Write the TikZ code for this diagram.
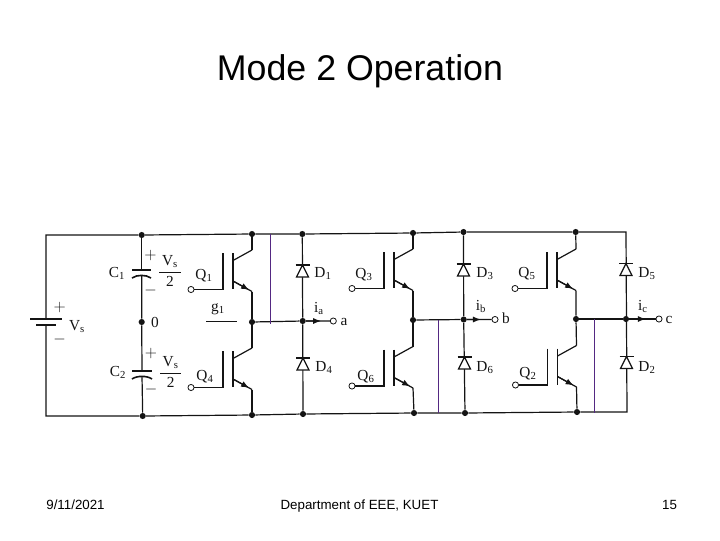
\documentclass[tikz,border=0pt]{standalone}
\usepackage{amsmath}
\usepackage[no-math]{fontspec}
\setmainfont{Liberation Sans}
\newfontfamily\cktfont{Liberation Serif}
\usetikzlibrary{arrows.meta,calc}

\definecolor{wirecol}{gray}{0.08}
\definecolor{modecol}{RGB}{84,40,130}

\tikzset{
  wire/.style={draw=wirecol, line width=0.9pt},
  dot/.style={circle, fill=wirecol, inner sep=0pt, minimum size=4.6pt},
  port/.style={circle, draw=wirecol, fill=white, line width=0.6pt, inner sep=0pt, minimum size=4.6pt},
  frac/.style={inner sep=0pt, text=wirecol, font=\fontsize{11.5}{13}\cktfont},
  lab/.style={frac, text height=8pt, text depth=0pt},
  slide/.style={inner sep=0pt, anchor=base, text=black, font=\fontsize{10}{12}\selectfont},
  marker/.style={draw=modecol, line width=0.8pt},
  tip/.style={wire, -{Latex[length=6pt,width=4.6pt]}}
}

% leg x, middle y of one transistor
\newcommand{\igbt}[3]{
  \coordinate (#1c) at (#2,#3-21);
  \coordinate (#1e) at (#2,#3+20.5);
  \coordinate (#1bc) at (#2-19,#3-10.5);
  \coordinate (#1be) at (#2-19,#3+10);
  \coordinate (#1gt) at (#2-29,#3-18);
  \coordinate (#1gb) at (#2-29,#3+18.5);
  \node[port] (#1g) at (#2-61,#3+18.5) {};
  \draw[wire] (#2-19,#3-18) -- (#2-19,#3+18);
  \draw[wire] (#1gt) -- (#1gb) -- (#1g);
  \draw[wire] (#1bc) -- (#1c);
  \draw[wire] (#1be) -- (#1e);
  \draw[tip] (#1be) -- ($(#1be)!0.85!(#1e)$);
}

% wire x, y of the bar of one diode
\newcommand{\diode}[3]{
  \coordinate (#1k) at (#2,#3);
  \draw[wire, fill=white] (#2,#3) -- (#2-6,#3+12) -- (#2+6,#3+12) -- cycle;
  \draw[wire] (#2-7,#3) -- (#2+7,#3);
}

\begin{document}
\begin{tikzpicture}[x=0.75pt, y=-0.75pt]
  \useasboundingbox (0,0) rectangle (720,540);

  \node[slide, font=\fontsize{26.8}{30}\selectfont] (title) at (360,80.5) {Mode 2 Operation};
  \node[slide] (date) at (75.5,509) {9/11/2021};
  \node[slide] (dept) at (359.5,509) {Department of EEE, KUET};
  \node[slide] (page) at (669.5,509) {15};

  % rails
  \coordinate (cornertl) at (46,235);
  \coordinate (cornerbl) at (46,416);
  \coordinate (cornertr) at (626,232);
  \coordinate (cornerbr) at (627,412);
  \node[dot] (topc) at (141.7,235) {};
  \node[dot] (topa) at (252,234) {};
  \node[dot] (topd) at (302.3,234) {};
  \node[dot] (topb) at (413,233) {};
  \node[dot] (tope) at (463.5,232) {};
  \node[dot] (topf) at (575.7,232) {};
  \node[dot] (botc) at (142.7,416) {};
  \node[dot] (bota) at (252,415) {};
  \node[dot] (botd) at (303,414) {};
  \node[dot] (botb) at (414,413) {};
  \node[dot] (bote) at (465,413) {};
  \node[dot] (botf) at (577,412) {};
  \node[dot] (midc) at (141.7,322) {};
  \node[dot] (mida) at (252,322) {};
  \node[dot] (midd) at (302.7,321) {};
  \node[dot] (midb) at (413,320) {};
  \node[dot] (mide) at (463.7,319.5) {};
  \node[dot] (midf) at (576,319) {};
  \node[dot] (midr) at (626,319) {};

  % source
  \coordinate (batup) at (46,319);
  \coordinate (batdn) at (46,325);
  \coordinate (batul) at (30,319);
  \coordinate (batur) at (62,319);
  \coordinate (batdl) at (36,325);
  \coordinate (batdr) at (56,325);
  \draw[wire] (batup) -- (cornertl) -- (topc) -- (topa) -- (topd) -- (topb) -- (tope) -- (topf) -- (cornertr) -- (cornerbr)
    -- (botf) -- (bote) -- (botb) -- (botd) -- (bota) -- (botc) -- (cornerbl) -- (batdn);
  \draw[wire] (batul) -- (batur);
  \draw[wire] (batdl) -- (batdr);

  % capacitors
  \coordinate (capat) at (141.7,270);
  \coordinate (capab) at (141.7,275);
  \coordinate (capbt) at (142,371);
  \coordinate (capbb) at (142,376);
  \draw[wire] (topc) -- (capat);
  \draw[wire] (capab) -- (midc) -- (capbt);
  \draw[wire] (capbb) -- (botc);
  \draw[wire, line width=1.2pt] (132,270) -- (151,270);
  \draw[wire, line width=1.2pt] (132,278) .. controls (137,274.5) and (146,274.5) .. (151,278);
  \draw[wire, line width=1.2pt] (132,371) -- (152,371);
  \draw[wire, line width=1.2pt] (132,379) .. controls (137,375.5) and (147,375.5) .. (152,379);

  % transistors
  \igbt{qa}{252}{271}
  \igbt{qd}{252}{369}
  \igbt{qc}{413}{270}
  \igbt{qf}{413}{367.5}
  \igbt{qe}{576}{270}
  \igbt{qb}{576.5}{366.5}
  \draw[wire] (topa) -- (qac);
  \draw[wire] (qae) -- (mida) -- (qdc);
  \draw[wire] (qde) -- (bota);
  \draw[wire] (topb) -- (qcc);
  \draw[wire] (qce) -- (midb) -- (qfc);
  \draw[wire] (qfe) -- (botb);
  \draw[wire] (topf) -- (qec);
  \draw[wire] (qee) -- (midf) -- (qbc);
  \draw[wire] (qbe) -- (botf);

  % gate lead beside the first leg
  \coordinate (gatel) at (206,321.5);
  \coordinate (gater) at (237,321.5);
  \draw[wire] (gatel) -- (gater);

  % outputs
  \node[port] (outa) at (333.3,321) {};
  \node[port] (outb) at (495,319.5) {};
  \node[port] (outc) at (659,319) {};
  \draw[wire] (mida) -- (midd) -- (outa);
  \draw[wire] (midb) -- (mide) -- (outb);
  \draw[wire] (midf) -- (midr) -- (outc);
  \draw[tip] (midd) -- ($(midd)!0.6!(outa)$);
  \draw[tip] (mide) -- ($(mide)!0.55!(outb)$);
  \draw[tip] (midr) -- ($(midr)!0.6!(outc)$);

  % diodes
  \draw[wire] (topd) -- (midd) -- (botd);
  \draw[wire] (tope) -- (mide) -- (bote);
  \diode{da}{302.5}{265}
  \diode{dd}{303}{358}
  \diode{dc}{463.5}{264}
  \diode{df}{464.5}{357}
  \diode{de}{626}{263.5}
  \diode{db}{626.5}{356.5}

  % purple lines
  \coordinate (markaa) at (270.3,234);
  \coordinate (markab) at (270.3,324);
  \coordinate (markba) at (438.3,319.5);
  \coordinate (markbb) at (438.3,413);
  \coordinate (markca) at (594.3,319);
  \coordinate (markcb) at (594.3,413);
  \draw[marker] (markaa) -- (markab);
  \draw[marker] (markba) -- (markbb);
  \draw[marker] (markca) -- (markcb);

  % labels
  \node[lab] (lvs) at (77,325) {V\textsubscript{s}};
  \node[frac] (lbp) at (59.7,307) {$+$};
  \node[frac] (lbm) at (59.7,339) {$-$};
  \node[lab] (lca) at (117,272) {C\textsubscript{1}};
  \node[lab] (lcb) at (118,371) {C\textsubscript{2}};
  \node[frac] (lap) at (150.5,255) {$+$};
  \node[frac] (lam) at (150.5,290) {$-$};
  \node[frac] (lcp) at (151,353) {$+$};
  \node[frac] (lcm) at (151,389) {$-$};
  \node[frac] (lfa) at (170,271) {$\dfrac{\,\text{V\textsubscript{s}}\,}{\text{2}}$};
  \node[frac] (lfb) at (170.7,372) {$\dfrac{\,\text{V\textsubscript{s}}\,}{\text{2}}$};
  \node[lab] (lzero) at (155,322) {0};
  \node[lab] (lg) at (218,306) {g\textsubscript{1}};
  \node[lab] (lqa) at (204,274) {Q\textsubscript{1}};
  \node[lab] (lqd) at (205,375) {Q\textsubscript{4}};
  \node[lab] (lqc) at (364,273) {Q\textsubscript{3}};
  \node[lab] (lqf) at (366,375) {Q\textsubscript{6}};
  \node[lab] (lqe) at (527,272) {Q\textsubscript{5}};
  \node[lab] (lqb) at (528,372) {Q\textsubscript{2}};
  \node[lab] (lda) at (323,272) {D\textsubscript{1}};
  \node[lab] (ldd) at (324,366) {D\textsubscript{4}};
  \node[lab] (ldc) at (485,272) {D\textsubscript{3}};
  \node[lab] (ldf) at (485,366) {D\textsubscript{6}};
  \node[lab] (lde) at (647,272) {D\textsubscript{5}};
  \node[lab] (ldb) at (647,366) {D\textsubscript{2}};
  \node[lab] (lia) at (319,307) {i\textsubscript{a}};
  \node[lab] (lib) at (481,305) {i\textsubscript{b}};
  \node[lab] (lic) at (643,305) {i\textsubscript{c}};
  \node[lab] (la) at (344,320) {a};
  \node[lab] (lb) at (506,318) {b};
  \node[lab] (lc) at (669,318) {c};
\end{tikzpicture}
\end{document}
